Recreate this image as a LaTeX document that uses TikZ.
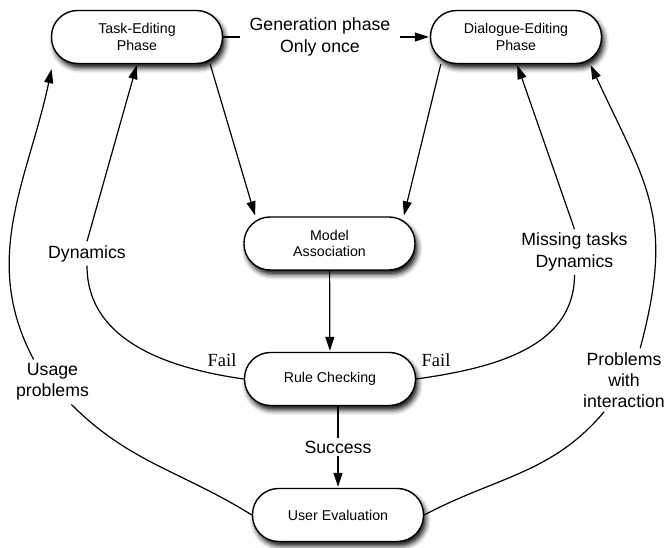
\documentclass[tikz,border=0pt]{standalone}
\usepackage{fontspec}
\setmainfont{Liberation Sans}
\newfontfamily\failfont{Liberation Serif}
\usepackage{tikz}
\usetikzlibrary{arrows.meta,shadows,shadows.blur}

\begin{document}
\begin{tikzpicture}[x=1pt,y=1pt,line width=1.2pt,
  phase/.style={draw,line width=1.4pt,fill=white,rounded corners=26pt,minimum width=171pt,minimum height=53pt,align=center,
    font=\fontsize{14.2}{16.7}\selectfont,
    blur shadow={shadow xshift=2.5pt,shadow yshift=-4.5pt,shadow blur radius=5pt,shadow opacity=95}},
  lbl/.style={align=center,font=\fontsize{17.7}{21.3}\selectfont},
  fail/.style={font=\failfont\fontsize{18.5}{20}\selectfont},
  arr/.style={-{Triangle[length=14pt,width=9pt]},shorten >=1pt}]
\useasboundingbox (0,0) rectangle (666,548);
% phases
\node[phase] (TE) at (137,511) {Task-Editing\\Phase};
\node[phase] (DE) at (516,511) {Dialogue-Editing\\Phase};
\node[phase] (MA) at (329.5,304.5) {Model\\Association};
\node[phase] (RC) at (330,169) {Rule Checking};
\node[phase] (UE) at (338,33) {User Evaluation};
% labels
\node[lbl,inner xsep=9pt] (gen) at (320,511) {Generation phase\\Only once};
\node[lbl] (dyn) at (87,294.5) {Dynamics};
\node[lbl] (mtd) at (574.5,296) {Missing tasks\\Dynamics};
\node[lbl] (usage) at (52.5,166) {Usage\\problems};
\node[lbl] (pwi) at (624,168) {Problems\\with\\interaction};
\node[fail] (failL) at (222,188) {Fail};
\node[fail] (failR) at (436,188) {Fail};
% forward flow
\draw (TE.east) -- (gen);
\draw[arr] (gen) -- (DE.west);
\draw[arr] ([xshift=-13]TE.south east) -- ([xshift=12]MA.north west);
\draw[arr] ([xshift=11]DE.south west) -- ([xshift=-12]MA.north east);
\draw[arr] (MA) -- (RC);
\draw[arr] (RC.south -| UE.north) -- node[lbl,fill=white,inner sep=3pt] (succ) {Success} (UE.north);
% feedback loops
\draw (RC.west) to[out=172,in=-90] (dyn.south);
\draw[arr] (dyn.north) -- (TE.south);
\draw (RC.east) to[out=8,in=-90] (mtd.south);
\draw[arr] (mtd.north) -- ([xshift=1]DE.south);
\draw (UE.west) to[out=148,in=-45] (usage.-50);
\draw[arr] (usage.130) to[out=118,in=-102] ([shift={(1,-4)}]TE.south west);
\draw (UE.east) to[out=28,in=-130] (pwi.-122);
\draw[arr] (pwi.63) to[out=75,in=-65,looseness=1.2] ([xshift=-12]DE.south east);
\end{tikzpicture}
\end{document}
